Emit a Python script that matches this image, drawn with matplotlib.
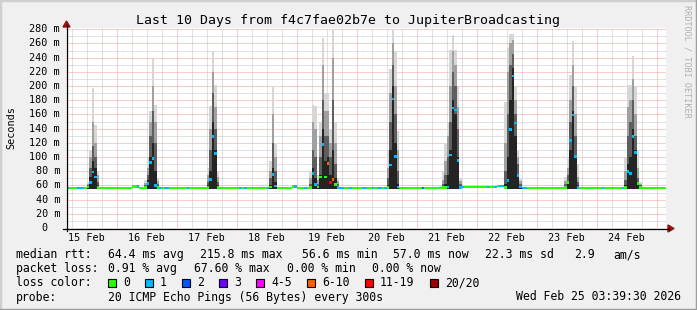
import numpy as np
import matplotlib
matplotlib.use("Agg")
import matplotlib.pyplot as plt
from matplotlib.patches import Rectangle, Polygon

W, H = 697, 310
MONO = "DejaVu Sans Mono"

# time axis: hours since graph start (Feb 15 03:39:30), one rrd step = 1 hour
span_hours = 240
step_offset = 0.325          # steps are aligned to full hours
first_midnight = 20.325      # Feb 16 00:00
day_labels = ["15 Feb", "16 Feb", "17 Feb", "18 Feb", "19 Feb",
              "20 Feb", "21 Feb", "22 Feb", "23 Feb", "24 Feb"]

# idle median rtt (ms) and slightly raised stretches
base_ms = 56.6
bump_steps = [26, 27, 28, 90, 91, 158, 159, 160, 161, 162, 163, 164, 165,
              166, 167, 168, 169, 170, 171, 172, 173, 174]
bump_ms = [58.5, 58.5, 58.5, 58.5, 58.5, 57.6, 57.6, 57.6, 57.6, 57.6, 57.6,
           57.6, 57.6, 57.6, 57.6, 57.6, 57.6, 57.6, 57.6, 59, 59, 59]

# steps on the idle line that lost pings
idle_loss_steps = [0, 4, 5, 6, 8, 28, 36, 37, 39, 40, 48, 56, 69, 71, 80, 91,
                   95, 109, 110, 113, 118, 119, 122, 124, 125, 127, 142, 157,
                   158, 168, 171, 173, 174, 182, 183, 214, 222]
idle_loss = [1] * len(idle_loss_steps)
idle_loss[idle_loss_steps.index(142)] = 2

# busy periods: step, median, loss index, smoke levels (ms)
spike_step = [8, 9, 10, 11, 12,
              31, 32, 33, 34, 35, 36,
              56, 57, 58, 59, 60,
              81, 82, 83,
              97, 98, 99, 100, 101, 102, 103, 104, 105, 106, 107, 108,
              128, 129, 130, 131, 132,
              150, 151, 152, 153, 154, 155, 156, 157,
              175, 176, 177, 178, 179, 180, 181,
              199, 200, 201, 202, 203, 204,
              223, 224, 225, 226, 227, 228, 229]
spike_med = [58, 64, 79, 72, 57,
             57, 63, 92, 98, 60, 57,
             57, 68, 129, 105, 57,
             58, 75, 59,
             57, 77, 61, 58, 72, 118, 72, 91, 64, 68, 61, 57,
             57, 89, 182, 101, 58,
             57, 57, 58, 103, 169, 166, 95, 57,
             57, 67, 139, 214, 148, 74, 58,
             57, 64, 123, 159, 101, 57,
             57, 80, 77, 129, 106, 63, 57]
spike_loss = [0, 1, 1, 1, 0,
              0, 1, 1, 1, 1, 0,
              0, 1, 1, 1, 0,
              0, 1, 1,
              0, 1, 1, 0, 0, 1, 0, 5, 6, 5, 0, 1,
              0, 1, 1, 1, 1,
              0, 0, 1, 1, 1, 1, 1, 1,
              0, 1, 1, 1, 1, 1, 1,
              0, 0, 1, 1, 1, 1,
              0, 1, 1, 1, 1, 0, 0]
smoke_dark = [58, 72, 95, 85, 60,
              58, 68, 100, 120, 80, 58,
              60, 80, 150, 110, 60,
              60, 85, 65,
              58, 85, 70, 58, 75, 140, 95, 100, 75, 110, 70, 58,
              60, 110, 200, 120, 62,
              58, 62, 75, 110, 180, 160, 100, 58,
              62, 100, 180, 225, 130, 75, 58,
              58, 65, 110, 165, 100, 60,
              60, 90, 100, 140, 110, 62, 58]
smoke_mid = [60, 85, 115, 100, 65,
             60, 75, 130, 165, 120, 62,
             65, 110, 190, 140, 65,
             70, 120, 80,
             62, 110, 100, 62, 100, 180, 130, 130, 100, 180, 90, 62,
             70, 150, 230, 160, 80,
             62, 75, 100, 150, 220, 200, 140, 62,
             80, 160, 230, 245, 160, 90, 62,
             62, 75, 150, 200, 130, 65,
             68, 130, 150, 180, 130, 70, 60]
smoke_light = [62, 100, 150, 120, 75,
               63, 85, 150, 200, 150, 66,
               75, 140, 220, 170, 72,
               80, 160, 100,
               70, 150, 140, 68, 130, 230, 165, 165, 120, 240, 120, 66,
               85, 190, 260, 200, 110,
               68, 95, 130, 200, 250, 230, 170, 66,
               120, 220, 260, 265, 180, 100, 66,
               66, 85, 180, 230, 160, 72,
               80, 170, 180, 210, 160, 85, 62]
smoke_max = [65, 110, 197, 145, 81,
             68, 100, 165, 240, 173, 70,
             85, 172, 250, 201, 80,
             95, 199, 120,
             80, 174, 172, 75, 150, 268, 190, 190, 140, 279, 150, 70,
             110, 224, 280, 250, 137,
             80, 120, 150, 251, 272, 251, 200, 70,
             178, 253, 274, 274, 200, 109, 70,
             72, 100, 215, 264, 200, 90,
             100, 202, 202, 242, 200, 110, 65]

loss_colors = ["#26ff00", "#00b8ff", "#0059ff", "#7000ff", "#ff00ff",
               "#ff5f00", "#ff0000", "#a10000"]
loss_labels = ["0", "1", "2", "3", "4-5", "6-10", "11-19", "20/20"]
smoke_colors = ["#d6d6d6", "#a0a0a0", "#5e5e5e", "#242424"]

y_top = 281.8
y_major = list(range(20, 281, 20))
y_minor = list(range(10, 281, 20))

title = "Last 10 Days from f4c7fae02b7e to JupiterBroadcasting"
rtt_items = ["median rtt:", "64.4 ms avg", "215.8 ms max", "56.6 ms min",
             "57.0 ms now", "22.3 ms sd", "2.9", "am/s"]
rtt_x = [16, 108, 200, 302, 393, 485, 574, 613]
pl_items = ["packet loss:", "0.91 % avg", "67.60 % max", "0.00 % min",
            "0.00 % now"]
pl_x = [16, 108, 194, 287, 372]
box_x = [108, 145, 182, 219, 256, 307, 365, 430]
probe = "20 ICMP Echo Pings (56 Bytes) every 300s"
stamp = "Wed Feb 25 03:39:30 2026"


def fx(x):
    return x / W


def fy(y):
    return 1 - y / H


fig = plt.figure(figsize=(W / 100, H / 100), dpi=100, facecolor="#f0f0f0")
ax = fig.add_axes([fx(66), fy(228), 600 / W, 200 / H])
ax.set_facecolor("white")
ax.set_xlim(0, span_hours)
ax.set_ylim(0, y_top)
for s in ax.spines.values():
    s.set_visible(False)
ax.set_xticks([])
ax.set_yticks([])

# grid (dotted)
mids = [first_midnight + 24 * i for i in range(10)]
minor_t = [t for t in np.arange(first_midnight - 18, span_hours, 6)
           if all(abs(t - m) > 0.1 for m in mids) and t > 0]
dots = (0, (1, 1))
ax.hlines(y_minor, 0, span_hours, colors="#c4c4c4", lw=0.72, linestyles=dots, zorder=1)
ax.vlines(minor_t, 0, y_top, colors="#c4c4c4", lw=0.72, linestyles=dots, zorder=1)
ax.hlines(y_major, 0, span_hours, colors="#f49a9a", lw=0.72, linestyles=dots, zorder=1)
ax.vlines(mids, 0, y_top, colors="#f49a9a", lw=0.72, linestyles=dots, zorder=1)

# median series
steps = np.arange(span_hours)
med = np.full(span_hours, base_ms)
loss = np.zeros(span_hours, dtype=int)
med[bump_steps] = bump_ms
loss[idle_loss_steps] = idle_loss
med[spike_step] = spike_med
loss[spike_step] = spike_loss

# smoke
sx = np.array(spike_step) + step_offset
bottom = 55.5
for top, col in zip([smoke_max, smoke_light, smoke_mid, smoke_dark], smoke_colors):
    top = np.array(top, dtype=float)
    ax.bar(sx, top - bottom, bottom=bottom, width=1.0, align="edge",
           color=col, lw=0, zorder=2)

# median marks
half = 1.3 * y_top / 200
ax.bar(steps + step_offset, 2 * half, bottom=med - half, width=1.0,
       align="edge", color=[loss_colors[i] for i in loss], lw=0, zorder=3)

# day labels at noon
for i, lab in enumerate(day_labels):
    ax.text(first_midnight - 12 + 24 * i, -12.7 * y_top / 200, lab,
            ha="center", va="baseline", fontsize=7.3, family=MONO)

# y labels
for v in range(0, 281, 20):
    if v == 0:
        ax.text(-19 / 2.5, v, "0", ha="right", va="center", fontsize=7.3, family=MONO)
    else:
        ax.text(-6 / 2.5, v, f"{v} m", ha="right", va="center", fontsize=7.3, family=MONO)

# axes with arrows
tf = fig.transFigure
fig.add_artist(plt.Line2D([fx(63), fx(669)], [fy(228.5), fy(228.5)], color="black", lw=0.9, transform=tf))
fig.add_artist(plt.Line2D([fx(66.5), fx(66.5)], [fy(231), fy(25)], color="black", lw=0.9, transform=tf))
fig.add_artist(Polygon([(fx(668), fy(225)), (fx(674), fy(228.5)), (fx(668), fy(232))],
                       closed=True, color="#9a1010", transform=tf))
fig.add_artist(Polygon([(fx(63), fy(27)), (fx(66.5), fy(21)), (fx(70), fy(27))],
                       closed=True, color="#9a1010", transform=tf))

# text
fig.text(fx(348.5), fy(24), title, ha="center", va="baseline", fontsize=9.5, family=MONO)
fig.text(fx(11), fy(128), "Seconds", ha="center", va="center", rotation=90,
         fontsize=7.3, family=MONO)
fig.text(fx(687), fy(5), "RRDTOOL / TOBI OETIKER", ha="center", va="top",
         rotation=-90, fontsize=6.1, family=MONO, color="#b0b0b0")

for s, x in zip(rtt_items, rtt_x):
    fig.text(fx(x), fy(258), s, ha="left", va="baseline", fontsize=8.3, family=MONO)
for s, x in zip(pl_items, pl_x):
    fig.text(fx(x), fy(272), s, ha="left", va="baseline", fontsize=8.3, family=MONO)
fig.text(fx(16), fy(286.5), "loss color:", ha="left", va="baseline", fontsize=8.3, family=MONO)
for c, lab, x in zip(loss_colors, loss_labels, box_x):
    fig.add_artist(Rectangle((fx(x), fy(287)), 8 / W, 8 / H, facecolor=c,
                             edgecolor="black", lw=0.8, transform=tf))
    fig.text(fx(x + 15), fy(286.5), lab, ha="left", va="baseline", fontsize=8.3, family=MONO)
fig.text(fx(16), fy(300.5), "probe:", ha="left", va="baseline", fontsize=8.3, family=MONO)
fig.text(fx(108), fy(300.5), probe, ha="left", va="baseline", fontsize=8.3, family=MONO)
fig.text(fx(681), fy(300.5), stamp, ha="right", va="baseline", fontsize=8.3, family=MONO)

# 3d frame
fig.add_artist(plt.Line2D([0, 0, 1], [0, 1, 1], color="#cfcfcf", lw=2.5, transform=tf))
fig.add_artist(plt.Line2D([0, 1, 1], [0, 0, 1], color="#9e9e9e", lw=2.5, transform=tf))

fig.savefig("out.png", dpi=100, facecolor=fig.get_facecolor())
